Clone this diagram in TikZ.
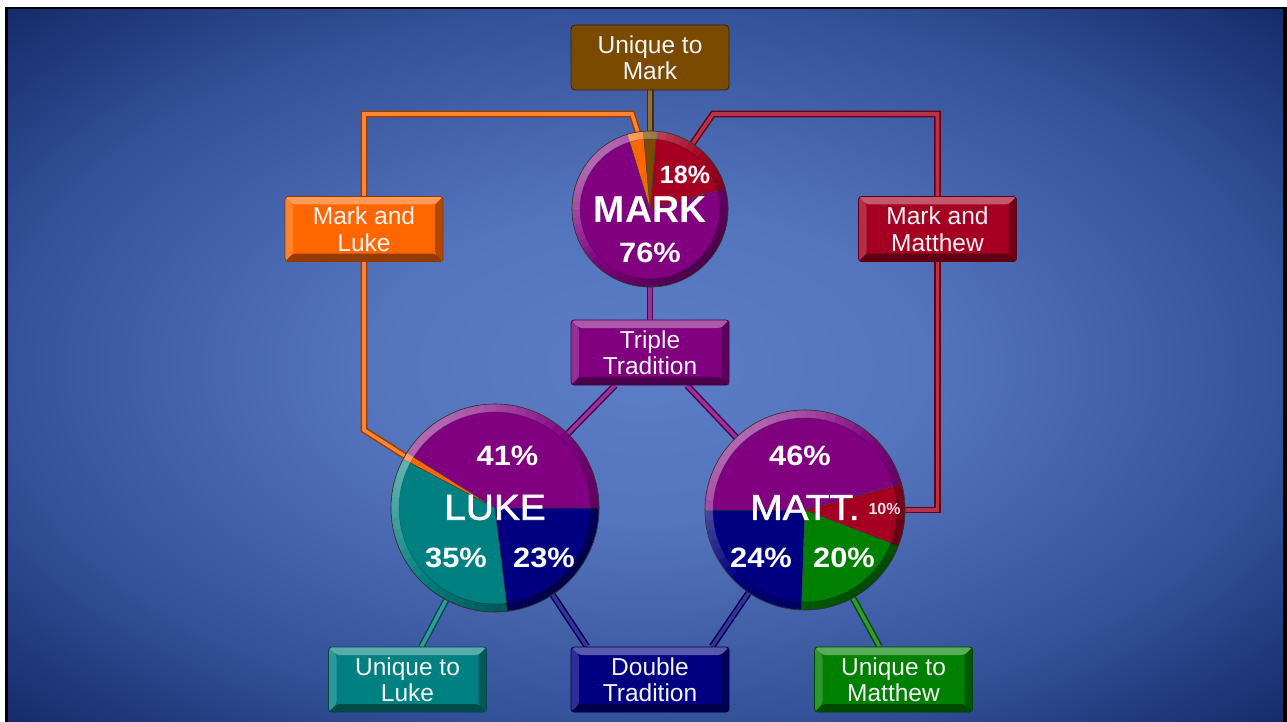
\documentclass[tikz,border=0pt]{standalone}
\usepackage{fontspec}
\setmainfont{Liberation Sans}
\newfontfamily\widebold[FakeStretch=1.1]{Liberation Sans Bold}
\newfontfamily\widereg[FakeStretch=1.08,FakeBold=1.6]{Liberation Sans}
\usetikzlibrary{calc}
\pgfdeclarelayer{bg}
\pgfdeclarelayer{lines}
\pgfsetlayers{bg,lines,main}

\definecolor{cBrown}{HTML}{7A4A00}
\definecolor{cOrange}{HTML}{FF6600}
\definecolor{cCrimson}{HTML}{A50021}
\definecolor{cPurple}{HTML}{800080}
\definecolor{cTeal}{HTML}{008080}
\definecolor{cNavy}{HTML}{000080}
\definecolor{cGreen}{HTML}{008000}
\definecolor{bgA}{HTML}{5C7EC6}
\definecolor{bgB}{HTML}{5474BD}
\definecolor{bgC}{HTML}{34529A}
\definecolor{bgD}{HTML}{172C6C}
\definecolor{bgE}{HTML}{0E1F5C}
\definecolor{txt}{HTML}{F4F4F4}

\pgfdeclareradialshading{bgshade}{\pgfpoint{0bp}{0bp}}{color(0bp)=(bgA); color(11bp)=(bgB); color(25bp)=(bgC); color(35bp)=(bgD); color(50bp)=(bgE)}

\tikzset{
  bevel/.style={path picture={
    \path (path picture bounding box.north west) coordinate (p1)
          (path picture bounding box.north east) coordinate (p2)
          (path picture bounding box.south east) coordinate (p3)
          (path picture bounding box.south west) coordinate (p4);
    \path ($(p1)+(8pt,-8pt)$) coordinate (q1) ($(p2)+(-8pt,-8pt)$) coordinate (q2)
          ($(p3)+(-8pt,8pt)$) coordinate (q3) ($(p4)+(8pt,8pt)$) coordinate (q4);
    \fill[white,opacity=.35] (p1)--(p2)--(q2)--(q1)--cycle;
    \fill[white,opacity=.18] (p1)--(q1)--(q4)--(p4)--cycle;
    \fill[black,opacity=.42] (p4)--(q4)--(q3)--(p3)--cycle;
    \fill[black,opacity=.30] (p2)--(p3)--(q3)--(q2)--cycle;
  }},
  boxbase/.style={rectangle, rounded corners=3pt, minimum width=158pt, minimum height=65pt,
    inner sep=0pt, text=txt, align=center, font=\fontsize{24.5}{26.5}\selectfont,
    fill=#1, draw=#1!55!black, line width=0.8pt},
  box/.style={boxbase=#1, bevel},
  flatbox/.style={boxbase=#1, rounded corners=4pt, draw=#1!45!black},
  pienode/.style={circle, minimum size=#1, inner sep=0pt, outer sep=0pt},
  pct/.style={text=white, inner sep=0pt, font=\widebold\fontsize{28}{30}\selectfont},
  conn/.style={draw=#1!60!black, double=#1!80!white, double distance=3.6pt, line width=1.5pt},
}

\newcommand\pslice[5]{%
  \filldraw[fill=#5, draw=black!75, line width=.5pt, line join=round]
    (#1.center) -- ++(#3:#2) arc[start angle=#3, end angle=#4, radius=#2] -- cycle;}

\newcommand\pierim[2]{%
  \pgfmathsetmacro\rin{#2-8}%
  \foreach \a in {0,6,...,354}{%
    \pgfmathsetmacro\cc{cos(\a+3-135)}%
    \pgfmathsetmacro\op{0.4*abs(\cc)}%
    \ifdim\cc pt>0pt \def\rimcol{white}\else\def\rimcol{black}\fi
    \fill[\rimcol, opacity=\op] (#1.center) ++(\a:#2) arc[start angle=\a, end angle=\a+6, radius=#2]
      -- ($(#1.center)+(\a+6:\rin)$) arc[start angle=\a+6, end angle=\a, radius=\rin] -- cycle;
  }%
  \draw[black, opacity=.25, line width=.6pt] (#1.center) circle[radius=\rin];
  \draw[black!80, line width=.6pt] (#1.center) circle[radius=#2];
}

\begin{document}
\begin{tikzpicture}[x=1pt, y=1pt]
\useasboundingbox (0,0) rectangle (1287,-722);

\begin{pgfonlayer}{bg}
  \fill[white] (0,0) rectangle (1287,-722);
  \fill[black] (5,-7) rectangle (1287,-722);
  \shade[shading=bgshade] (8,-10) rectangle (1283,-722);
\end{pgfonlayer}

% pies (geometry nodes)
\node[pienode=156pt] (mark) at (650,-209) {};
\node[pienode=208pt] (luke) at (495,-508) {};
\node[pienode=200pt] (matt) at (805,-510) {};

% MARK pie
\pslice{mark}{78}{15}{85}{cCrimson}
\pslice{mark}{78}{85}{95}{cBrown}
\pslice{mark}{78}{95}{107}{cOrange}
\pslice{mark}{78}{107}{375}{cPurple}
\pierim{mark}{78}

% LUKE pie
\pslice{luke}{104}{0}{148}{cPurple}
\pslice{luke}{104}{148}{152}{cOrange}
\pslice{luke}{104}{152}{277}{cTeal}
\pslice{luke}{104}{277}{360}{cNavy}
\pierim{luke}{104}

% MATT pie
\pslice{matt}{100}{15}{180}{cPurple}
\pslice{matt}{100}{180}{268}{cNavy}
\pslice{matt}{100}{268}{339}{cGreen}
\pslice{matt}{100}{339}{375}{cCrimson}
\pierim{matt}{100}

% pie labels
\node[pct, font=\bfseries\fontsize{37.5}{40}\selectfont] (markname) at (650,-210) {MARK};
\node[pct] (mark76) at (650,-253) {76\%};
\node[pct, font=\bfseries\fontsize{25}{27}\selectfont] (mark18) at (685,-175) {18\%};

\node[pct, font=\widereg\fontsize{36}{38}\selectfont] (lukename) at (495,-507.5) {LUKE};
\node[pct] (luke41) at (507.5,-456) {41\%};
\node[pct] (luke35) at (456,-557.5) {35\%};
\node[pct] (luke23) at (544,-557.5) {23\%};

\node[pct, font=\widereg\fontsize{36}{38}\selectfont] (mattname) at (805,-507.5) {MATT.};
\node[pct] (matt46) at (800,-456) {46\%};
\node[pct, font=\bfseries\fontsize{16}{18}\selectfont, text=white!90!black] (matt10) at (884.5,-509) {10\%};
\node[pct] (matt24) at (761,-557.5) {24\%};
\node[pct] (matt20) at (844,-557.5) {20\%};

% boxes
\node[flatbox=cBrown] (um) at (650,-57.5) {Unique to\\Mark};
\node[box=cOrange] (ml) at (364,-229) {Mark and\\Luke};
\node[box=cCrimson] (mm) at (937.5,-229) {Mark and\\Matthew};
\node[box=cPurple] (tt) at (650,-352.5) {Triple\\Tradition};
\node[box=cTeal] (ul) at (407.5,-679.5) {Unique to\\Luke};
\node[box=cNavy] (dt) at (650,-679.5) {Double\\Tradition};
\node[box=cGreen] (umt) at (893.5,-679.5) {Unique to\\Matthew};

% connectors
\begin{pgfonlayer}{lines}
  \draw[conn=cBrown, double distance=4pt] (um.south) -- (mark.center);
  \draw[conn=cOrange] (mark.99) -- (632,-114) -- (ml.north |- 0,-114) -- (ml.north);
  \draw[conn=cOrange] (ml.south) -- (ml.south |- 0,-430) -- (luke.150);
  \draw[conn=cCrimson] (mark.57) -- (713,-114) -- (mm.north |- 0,-114) -- (mm.north);
  \draw[conn=cCrimson] (mm.south) -- (mm.south |- 0,-510) -- (matt.east);
  \draw[conn=cPurple] (mark.south) -- (tt.north);
  \draw[conn=cPurple] ($(tt.south)+(-35,0)$) -- (luke.center);
  \draw[conn=cPurple] ($(tt.south)+(37,0)$) -- (matt.center);
  \draw[conn=cNavy] ($(dt.north)+(-63,0)$) -- (luke.center);
  \draw[conn=cNavy] ($(dt.north)+(62,0)$) -- (matt.center);
  \draw[conn=cTeal] ($(ul.north)+(14,0)$) -- (luke.center);
  \draw[conn=cGreen] ($(umt.north)+(-14,0)$) -- (matt.center);
\end{pgfonlayer}
\end{tikzpicture}
\end{document}
